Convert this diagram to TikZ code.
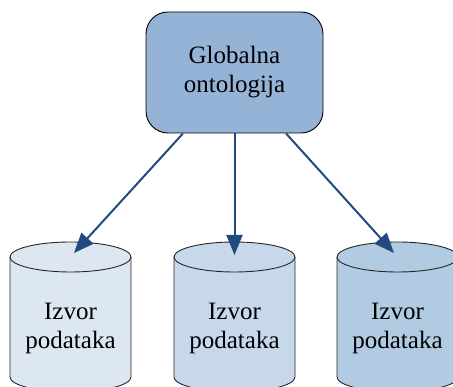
\documentclass[tikz,border=0pt]{standalone}
\usepackage{fontspec}
\setmainfont{Liberation Serif}
\usetikzlibrary{arrows.meta}
\definecolor{boxfill}{HTML}{95B3D7}
\definecolor{dbA}{HTML}{DDE7F2}
\definecolor{dbB}{HTML}{C7D8EA}
\definecolor{dbC}{HTML}{B0CBE2}
\definecolor{arrowblue}{HTML}{214A80}
\tikzset{
  label text/.style={font=\fontsize{25}{29}\selectfont, align=center, text=black},
  topbox/.style={draw=black, line width=0.9pt, fill=boxfill, rounded corners=22pt,
    minimum width=177pt, minimum height=121pt, inner sep=0pt, label text},
  dbline/.style={draw=black!85, line width=0.9pt},
  flow/.style={draw=arrowblue, line width=2pt, -{Triangle[length=20pt,width=16pt]}},
}
% cylinder: #1 name, #2 centre x, #3 fill
\newcommand{\datastore}[3]{%
  \path[dbline, fill=#3] (#2pt-60.5pt,130pt) -- (#2pt-60.5pt,10pt)
    arc[start angle=180, end angle=360, x radius=60.5pt, y radius=15pt]
    -- (#2pt+60.5pt,130pt)
    arc[start angle=0, end angle=180, x radius=60.5pt, y radius=15pt] -- cycle;
  \draw[dbline] (#2pt-60.5pt,130pt)
    arc[start angle=180, end angle=360, x radius=60.5pt, y radius=15pt];
  \node[label text] (#1) at (#2pt,59pt) {Izvor\\podataka};
  \coordinate (#1-in) at (#2pt,132pt);
}
\begin{document}
\begin{tikzpicture}[x=1pt,y=1pt]
  \useasboundingbox (0,0) rectangle (453,387);
  \node[topbox] (onto) at (234.5,314.5) {Globalna\\ontologija};
  \datastore{srcA}{70.5}{dbA}
  \datastore{srcB}{234.5}{dbB}
  \datastore{srcC}{397.5}{dbC}
  \coordinate (tipA) at (74,134);
  \coordinate (tipC) at (394,134);
  \draw[flow] (onto.south -| 183,0) -- (tipA);
  \draw[flow] (onto.south) -- (srcB-in);
  \draw[flow] (onto.south -| 286,0) -- (tipC);
\end{tikzpicture}
\end{document}
